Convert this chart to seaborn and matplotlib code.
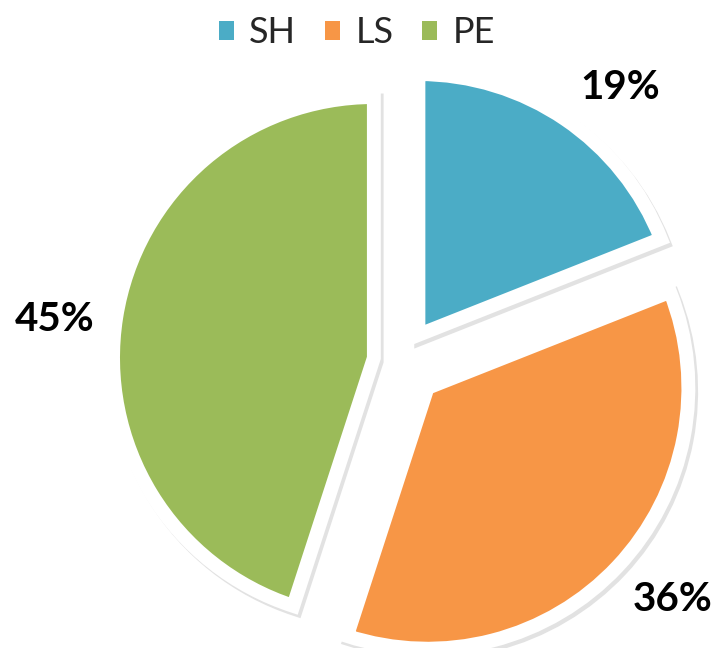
import numpy as np
import matplotlib.pyplot as plt
import matplotlib.patheffects as pe
from matplotlib.patches import Patch
import seaborn as sns

labels = ['SH', 'LS', 'PE']
shares = [19, 36, 45]
colors = ['#4BACC6', '#F79646', '#9BBB59']
explode = [0.13, 0.15, 0.105]

sns.set_theme(style='white')
plt.rcParams['font.family'] = ['Lato', 'DejaVu Sans']

fig = plt.figure(figsize=(7.21, 6.48), dpi=100)
ax = fig.add_axes([0, 0, 1, 1])

# soft drop shadow under the thick white outline
shadow = [pe.Stroke(offset=(2, -2.5), linewidth=10, foreground='#e2e2e2'), pe.Normal()]
wedges, _ = ax.pie(shares, explode=explode, colors=sns.color_palette(colors),
                   startangle=90, counterclock=False, radius=1.035,
                   wedgeprops=dict(edgecolor='white', linewidth=10, path_effects=shadow))

# percentage labels sit just outside each slice
label_dist = [1.265, 1.284, 1.274]
label_turn = [-5, 2.3, 2.2]
for w, v, d, t in zip(wedges, shares, label_dist, label_turn):
    ang = np.deg2rad((w.theta1 + w.theta2) / 2 + t)
    cx, cy = w.center
    ax.text(cx + d * np.cos(ang), cy + d * np.sin(ang), f'{v}%', ha='center', va='center',
            fontsize=29, fontweight='bold', color='black')

ax.set_xlim(-400 / 252, 321 / 252)
ax.set_ylim(-286 / 252, 362 / 252)
ax.set_aspect('equal')
ax.axis('off')

handles = [Patch(facecolor=c, edgecolor='none') for c in colors]
ax.legend(handles, labels, loc='upper center', bbox_to_anchor=(0.495, 1.025), ncol=3,
          frameon=False, fontsize=26, handlelength=0.42, handleheight=0.42,
          handletextpad=0.42, columnspacing=0.8)

plt.savefig('out.png', dpi=100)
